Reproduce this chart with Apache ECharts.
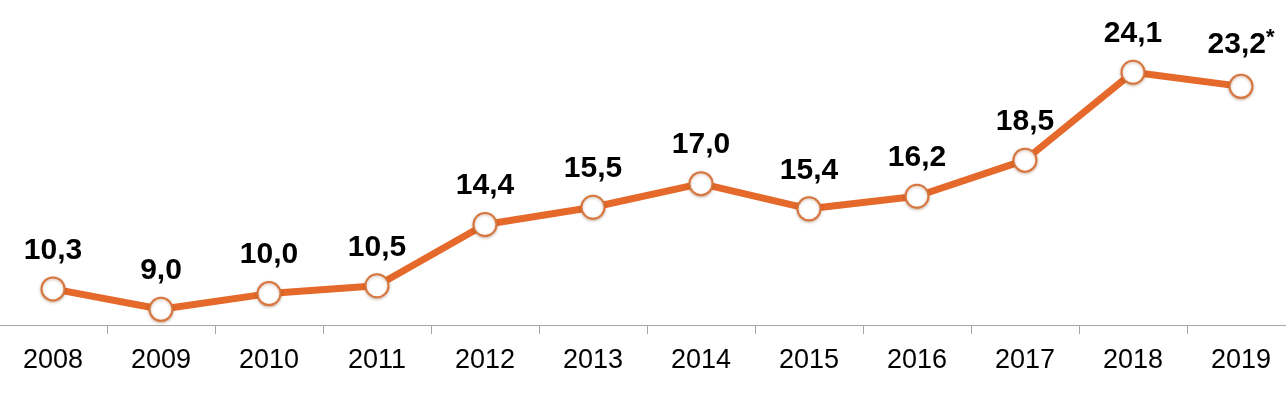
<!DOCTYPE html>
<html>
<head>
<meta charset="utf-8">
<script src="https://cdn.jsdelivr.net/npm/echarts@6/dist/echarts.min.js"></script>
<style>
html,body{margin:0;padding:0;background:#fff;overflow:hidden;}
#chart{position:absolute;left:-1px;top:0;width:1296px;height:395px;}
</style>
</head>
<body>
<div id="chart"></div>
<script>
const years = ['2008','2009','2010','2011','2012','2013','2014','2015','2016','2017','2018','2019'];
const values = [10.3, 9.0, 10.0, 10.5, 14.4, 15.5, 17.0, 15.4, 16.2, 18.5, 24.1, 23.2];
const labelSuffix = ['', '', '', '', '', '', '', '', '', '', '', '*'];

const chart = echarts.init(document.getElementById('chart'));
chart.setOption({
  animation: false,
  backgroundColor: '#ffffff',
  grid: {left: 0, right: 0, top: 11, bottom: 70},
  xAxis: {
    type: 'category',
    data: years,
    boundaryGap: true,
    axisLine: {show: true, lineStyle: {color: '#a6a6a6', width: 1}},
    axisTick: {show: true, length: 9, lineStyle: {color: '#a6a6a6'}},
    axisLabel: {color: '#000', fontSize: 27, fontFamily: 'Liberation Sans, Arial, sans-serif', margin: 22}
  },
  yAxis: {
    type: 'value',
    min: 8, max: 28,
    show: false,
    splitLine: {show: false}
  },
  series: [{
    type: 'line',
    data: values,
    symbol: 'circle',
    symbolSize: 23,
    lineStyle: {color: '#E5692A', width: 7},
    itemStyle: {color: '#ffffff', borderColor: '#D8753C', borderWidth: 2,
      shadowColor: 'rgba(120,60,20,0.35)', shadowBlur: 3, shadowOffsetY: 1},
    label: {
      show: true,
      position: 'top',
      distance: 11,
      formatter: function(p){
        const t = values[p.dataIndex].toFixed(1).replace('.', ',');
        const s = labelSuffix[p.dataIndex];
        return s ? '{v|' + t + '}{s|' + s + '}' : '{v|' + t + '}';
      },
      rich: {
        v: {fontSize: 30, fontWeight: 'bold', color: '#000', fontFamily: 'Liberation Sans, Arial, sans-serif'},
        s: {fontSize: 22, fontWeight: 'bold', color: '#000', fontFamily: 'Liberation Sans, Arial, sans-serif', verticalAlign: 'top', padding: [0,0,14,0]}
      }
    }
  }]
});
</script>
</body>
</html>
